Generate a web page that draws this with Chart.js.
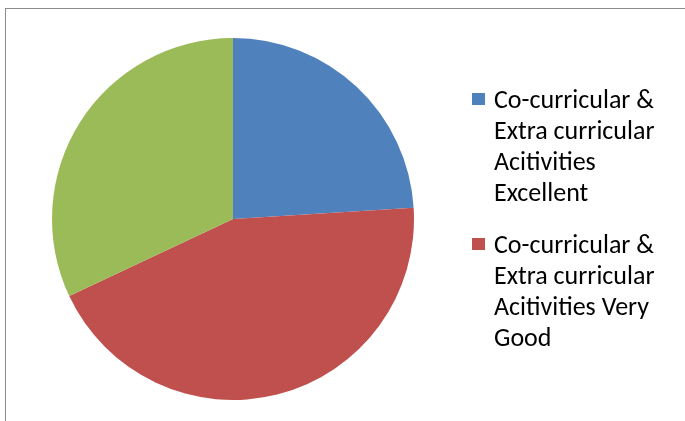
<!DOCTYPE html>
<html>
<head>
<meta charset="utf-8">
<script src="https://cdn.jsdelivr.net/npm/chart.js@4"></script>
<style>
    html, body { margin: 0; padding: 0; background: #fff; }
    #wrap { position: relative; width: 685px; height: 421px; overflow: hidden; }
    #frame { position: absolute; left: 5px; top: 8px; width: 700px; height: 430px; border: 1px solid #8c8c8c; box-sizing: border-box; }
    #pie { position: absolute; left: 0; top: 0; }
    #legend { position: absolute; left: 472px; top: 84px; font-family: Carlito, Calibri, "Open Sans", sans-serif; font-size: 26px; color: #000; }
    .item { position: relative; padding-left: 22px; line-height: 31px; margin-bottom: 21px; width: 180px; }
    .box { position: absolute; left: 0; top: 9px; width: 13px; height: 12px; }
</style>
</head>
<body>
<div id="wrap">
    <div id="frame"></div>
    <canvas id="pie" width="685" height="421"></canvas>
    <div id="legend"></div>
</div>
<script>
const categories = [
    'Co-curricular & Extra curricular Acitivities Excellent',
    'Co-curricular & Extra curricular Acitivities Very Good',
    'Co-curricular & Extra curricular Acitivities Good'
];
const shares = [24, 44, 32];
const colors = ['#4F81BD', '#C0504D', '#9BBB59'];
// only the first two entries fit in the legend box of the original
const legendCount = 2;

const chart = new Chart(document.getElementById('pie'), {
    type: 'pie',
    data: {
        labels: categories,
        datasets: [{
            data: shares,
            backgroundColor: colors,
            borderWidth: 0
        }]
    },
    options: {
        responsive: false,
        animation: false,
        layout: { padding: { left: 52, right: 271, top: 38, bottom: 21 } },
        plugins: {
            legend: { display: false },
            tooltip: { enabled: false }
        }
    }
});

// HTML legend built from the chart's own labels and colours
const legendEl = document.getElementById('legend');
chart.data.labels.slice(0, legendCount).forEach((label, i) => {
    const item = document.createElement('div');
    item.className = 'item';
    const box = document.createElement('span');
    box.className = 'box';
    box.style.background = chart.data.datasets[0].backgroundColor[i];
    item.appendChild(box);
    item.appendChild(document.createTextNode(label));
    legendEl.appendChild(item);
});
</script>
</body>
</html>
